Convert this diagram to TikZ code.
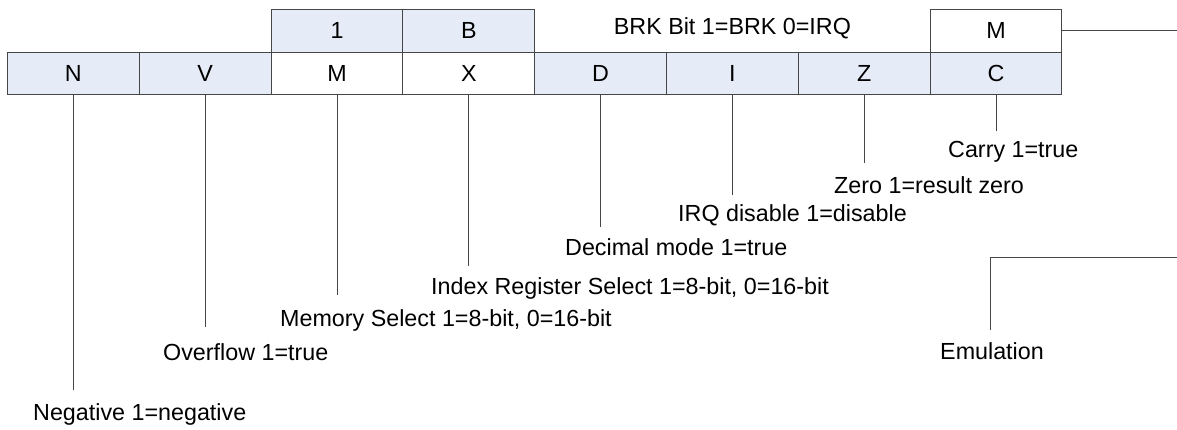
\documentclass[tikz,border=0pt]{standalone}
\usepackage{fontspec}
\setmainfont{Liberation Sans}
\definecolor{cellblue}{RGB}{230,236,247}
\definecolor{linegray}{RGB}{70,70,70}
\begin{document}
\begin{tikzpicture}[x=1pt,y=-1pt,
  cell/.style={draw=linegray,line width=1pt,minimum width=131.8pt,minimum height=42.3pt,inner sep=0pt,anchor=center,font=\fontsize{23.3}{28}\selectfont},
  bluecell/.style={cell,fill=cellblue},
  whitecell/.style={cell,fill=white},
  lbl/.style={inner sep=0pt,anchor=west,font=\fontsize{23.3}{28}\selectfont},
  lead/.style={draw=linegray,line width=1pt}]
\useasboundingbox (0,0) rectangle (1177,429);
% bottom row
\node[bluecell]  (cN) at (73.4,73.2) {N};
\node[bluecell]  (cV) at (205.2,73.2) {V};
\node[whitecell] (cM) at (337.0,73.2) {M};
\node[whitecell] (cX) at (468.8,73.2) {X};
\node[bluecell]  (cD) at (600.6,73.2) {D};
\node[bluecell]  (cI) at (732.4,73.2) {I};
\node[bluecell]  (cZ) at (864.2,73.2) {Z};
\node[bluecell]  (cC) at (996.0,73.2) {C};
% top row
\node[bluecell]  (t1) at (337.0,30.9) {1};
\node[bluecell]  (tB) at (468.8,30.9) {B};
\node[whitecell] (tM) at (996.0,30.9) {M};
\node[inner sep=0pt,font=\fontsize{23.3}{28}\selectfont] (brk) at (732.4,28.5) {BRK Bit 1=BRK 0=IRQ};
% labels
\node[lbl] (lC) at (948,152) {Carry 1=true};
\node[lbl] (lZ) at (834,185) {Zero 1=result zero};
\node[lbl] (lI) at (678,215) {IRQ disable 1=disable};
\node[lbl] (lD) at (565,247) {Decimal mode 1=true};
\node[lbl] (lX) at (431,288) {Index Register Select 1=8-bit, 0=16-bit};
\node[lbl] (lM) at (280,320) {Memory Select 1=8-bit, 0=16-bit};
\node[lbl] (lV) at (163,352) {Overflow 1=true};
\node[lbl] (lN) at (33,414) {Negative 1=negative};
\node[inner sep=0pt,font=\fontsize{23.3}{28}\selectfont] (lE) at (992,351) {Emulation};
% leader ends
\coordinate (eC) at (996.0,131);
\coordinate (eZ) at (864.2,163);
\coordinate (eI) at (732.4,195);
\coordinate (eD) at (600.6,227);
\coordinate (eX) at (468.8,266);
\coordinate (eM) at (337.0,295);
\coordinate (eV) at (205.2,327);
\coordinate (eN) at (73.4,390);
\draw[lead] (cC.south) -- (eC);
\draw[lead] (cZ.south) -- (eZ);
\draw[lead] (cI.south) -- (eI);
\draw[lead] (cD.south) -- (eD);
\draw[lead] (cX.south) -- (eX);
\draw[lead] (cM.south) -- (eM);
\draw[lead] (cV.south) -- (eV);
\draw[lead] (cN.south) -- (eN);
% M to the right edge
\coordinate (mR) at (1177,30.9);
\draw[lead] (tM.east) -- (mR);
% emulation connector
\coordinate (emR) at (1177,257);
\coordinate (emC) at (990,257);
\coordinate (emB) at (990,330);
\draw[lead] (emR) -- (emC) -- (emB);
\end{tikzpicture}
\end{document}
